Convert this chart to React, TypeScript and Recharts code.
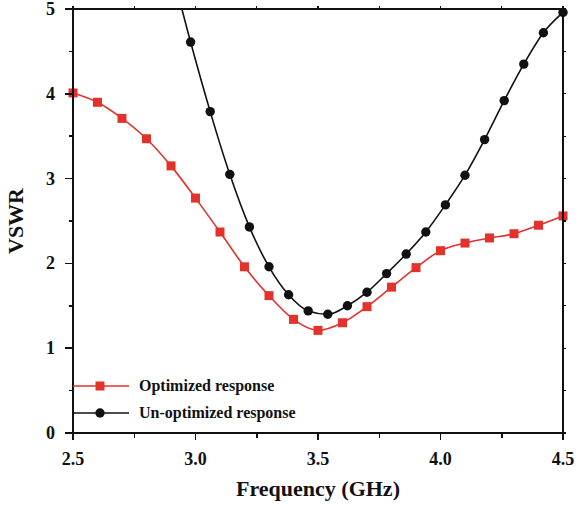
import { LineChart, Line, XAxis, YAxis } from "recharts";

// optimized response, sampled every 0.1 GHz
const optFreq = [2.5, 2.6, 2.7, 2.8, 2.9, 3.0, 3.1, 3.2, 3.3, 3.4, 3.5, 3.6, 3.7, 3.8, 3.9, 4.0, 4.1, 4.2, 4.3, 4.4, 4.5];
const optVswr = [4.01, 3.9, 3.71, 3.47, 3.15, 2.77, 2.37, 1.96, 1.62, 1.34, 1.21, 1.3, 1.49, 1.72, 1.95, 2.15, 2.24, 2.3, 2.35, 2.45, 2.56];

// un-optimized response, sampled every 0.08 GHz (first point is off the top of the chart)
const unoptFreq = [2.9, 2.98, 3.06, 3.14, 3.22, 3.3, 3.38, 3.46, 3.54, 3.62, 3.7, 3.78, 3.86, 3.94, 4.02, 4.1, 4.18, 4.26, 4.34, 4.42, 4.5];
const unoptVswr = [5.5, 4.61, 3.79, 3.05, 2.43, 1.96, 1.63, 1.44, 1.4, 1.5, 1.66, 1.88, 2.11, 2.37, 2.69, 3.04, 3.46, 3.92, 4.35, 4.72, 4.96];

const xTicks = [2.5, 2.75, 3.0, 3.25, 3.5, 3.75, 4.0, 4.25, 4.5];
const yTicks = [0, 0.5, 1, 1.5, 2, 2.5, 3, 3.5, 4, 4.5, 5];

const optData = optFreq.map((x, i) => ({ x, y: optVswr[i] }));
const unoptData = unoptFreq.map((x, i) => ({ x, y: unoptVswr[i] }));

const RED = "#e2322b";
const BLACK = "#111111";
const FONT = "Liberation Serif, DejaVu Serif, serif";

// chart geometry (from the margins / axis sizes below)
const W = 580;
const H = 505;
const M = { top: 9, right: 17, left: 0, bottom: 0 };
const Y_AXIS_W = 73;
const X_AXIS_H = 72;
const plot = { left: M.left + Y_AXIS_W, right: W - M.right, top: M.top, bottom: H - X_AXIS_H };

const Square = (props: any) => {
  const { cx, cy, payload } = props;
  if (cx == null || cy == null || payload.y > 5) return null;
  return <rect key={`s-${payload.x}`} x={cx - 4.5} y={cy - 4.5} width={9} height={9} fill={RED} />;
};

const Circle = (props: any) => {
  const { cx, cy, payload } = props;
  if (cx == null || cy == null || payload.y > 5) return null;
  return <circle key={`c-${payload.x}`} cx={cx} cy={cy} r={4.7} fill={BLACK} />;
};

const isMajorX = (v: number) => Math.abs(v * 2 - Math.round(v * 2)) < 1e-6;

// tick labels (tickSize/tickMargin = 0 puts x,y on the axis line)
const BottomTick = (props: any) => {
  const { x, y, payload } = props;
  if (!isMajorX(payload.value)) return <g />;
  return (
    <text x={x} y={y + 32} textAnchor="middle" fontFamily={FONT} fontWeight="bold" fontSize={18} fill={BLACK}>
      {payload.value.toFixed(1)}
    </text>
  );
};

const LeftTick = (props: any) => {
  const { x, y, payload } = props;
  if (!Number.isInteger(payload.value)) return <g />;
  return (
    <text x={x - 18} y={y + 6} textAnchor="end" fontFamily={FONT} fontWeight="bold" fontSize={18} fill={BLACK}>
      {payload.value}
    </text>
  );
};

// frame and tick marks as plain html boxes over the plot area
const bar = (left: number, top: number, width: number, height: number, key: string) => (
  <div key={key} style={{ position: "absolute", left, top, width, height, background: BLACK }} />
);

const Frame = () => {
  const px = (v: number) => plot.left + ((v - 2.5) / 2) * (plot.right - plot.left);
  const py = (v: number) => plot.bottom - (v / 5) * (plot.bottom - plot.top);
  const pw = plot.right - plot.left;
  const ph = plot.bottom - plot.top;
  return (
    <div style={{ position: "absolute", left: 0, top: 0, width: W, height: H, pointerEvents: "none" }}>
      {bar(plot.left - 1, plot.top - 1, pw + 2, 2, "top")}
      {bar(plot.right - 1, plot.top - 1, 2, ph + 2, "right")}
      {bar(plot.left - 1, plot.bottom - 1, pw + 2, 2, "bottom")}
      {bar(plot.left - 1, plot.top - 1, 2, ph + 2, "left")}
      {xTicks.map((t) => bar(px(t) - 0.75, plot.bottom, 1.5, isMajorX(t) ? 7 : 5, `xb${t}`))}
      {xTicks.map((t) => bar(px(t) - 0.6, plot.top - 3, 1.2, 3, `xt${t}`))}
      {yTicks.map((t) => {
        const len = Number.isInteger(t) ? 8 : 4;
        return bar(plot.left - len, py(t) - 0.75, len, 1.5, `yl${t}`);
      })}
      {yTicks.map((t) => bar(plot.right, py(t) - 0.6, 3, 1.2, `yr${t}`))}
    </div>
  );
};

const legendItems = [
  { label: "Optimized response", color: RED, marker: "square" },
  { label: "Un-optimized response", color: BLACK, marker: "circle" },
];

const LegendBox = () => (
  <div style={{ position: "absolute", left: 73, top: 372, fontFamily: FONT, fontWeight: "bold", fontSize: 16, color: BLACK }}>
    {legendItems.map((item) => (
      <div key={item.label} style={{ display: "flex", alignItems: "center", height: 27 }}>
        <svg width={56} height={12} style={{ marginRight: 10 }}>
          <line x1={0} y1={6} x2={56} y2={6} stroke={item.color} strokeWidth={1.5} />
          {item.marker === "square" ? (
            <rect x={22.5} y={1.5} width={9} height={9} fill={item.color} />
          ) : (
            <circle cx={27} cy={6} r={4.7} fill={item.color} />
          )}
        </svg>
        <span>{item.label}</span>
      </div>
    ))}
  </div>
);

export default function App() {
  const titleStyle = { fontSize: 22, fontWeight: "bold", fill: BLACK, fontFamily: FONT };
  return (
    <div style={{ position: "absolute", left: 0, top: 0, width: W, height: H, background: "#ffffff", fontFamily: FONT }}>
      <LineChart width={W} height={H} margin={M}>
        <XAxis
          dataKey="x"
          type="number"
          domain={[2.5, 4.5]}
          ticks={xTicks}
          height={X_AXIS_H}
          tickSize={0}
          tickMargin={0}
          axisLine={false}
          tickLine={false}
          tick={<BottomTick />}
          label={{ value: "Frequency (GHz)", position: "insideBottom", offset: 9, style: titleStyle }}
        />
        <YAxis
          type="number"
          domain={[0, 5]}
          ticks={yTicks}
          allowDataOverflow
          width={Y_AXIS_W}
          tickSize={0}
          tickMargin={0}
          axisLine={false}
          tickLine={false}
          tick={<LeftTick />}
          label={{ value: "VSWR", angle: -90, position: "insideLeft", offset: 15, style: { ...titleStyle, textAnchor: "middle" } }}
        />
        <Line
          data={optData}
          dataKey="y"
          type="monotone"
          stroke={RED}
          strokeWidth={1.6}
          dot={<Square />}
          isAnimationActive={false}
          name="Optimized response"
        />
        <Line
          data={unoptData}
          dataKey="y"
          type="monotone"
          stroke={BLACK}
          strokeWidth={1.6}
          dot={<Circle />}
          isAnimationActive={false}
          name="Un-optimized response"
        />
      </LineChart>
      <Frame />
      <LegendBox />
    </div>
  );
}
